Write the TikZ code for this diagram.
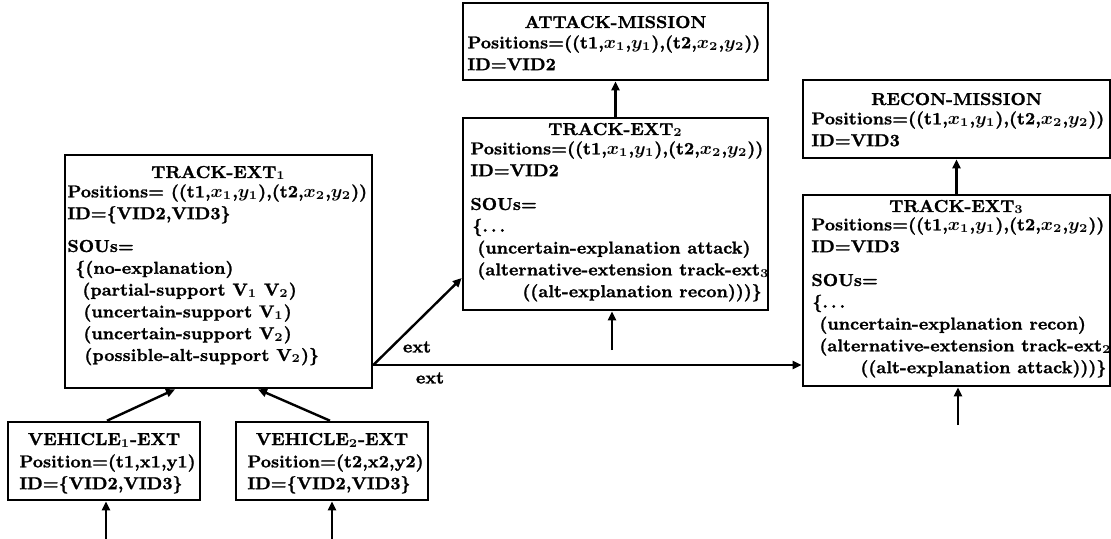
\documentclass[tikz,border=0pt]{standalone}
\usepackage{fontspec}
\setmainfont{Latin Modern Roman}[BoldFeatures={FakeBold=1.2}]
\usetikzlibrary{arrows.meta}
\newcommand{\diafont}{\fontsize{8.65}{10.9}\selectfont\bfseries\boldmath}
\tikzset{
  box/.style={draw, line width=1.3pt, inner sep=0pt},
  title/.style={font=\diafont, anchor=base, inner sep=0pt},
  body/.style={font=\diafont, anchor=north west, align=left, inner sep=0pt},
  lbl/.style={font=\diafont, inner sep=0pt},
  arr/.style={-{Triangle[length=4.5pt,width=4pt]}, line width=1.2pt}
}
\begin{document}
\begin{tikzpicture}[x=0.5pt, y=-0.5pt]
    \useasboundingbox (0,0) rectangle (1111,539);

    % Vehicle extensions
    \node[box, minimum width=96pt, minimum height=39pt] (vehA) at (104,461) {};
    \node[title] (vehAt) at (104,445) {VEHICLE$_1$-EXT};
    \node[body] (vehAb) at (19,454) {Position=(t1,x1,y1)\\ID=\{VID2,VID3\}};
    \node[box, minimum width=96pt, minimum height=39pt] (vehB) at (332,461) {};
    \node[title] (vehBt) at (332,445) {VEHICLE$_2$-EXT};
    \node[body] (vehBb) at (247,454) {Position=(t2,x2,y2)\\ID=\{VID2,VID3\}};

    % Track extension 1
    \node[box, minimum width=153.5pt, minimum height=116.5pt] (trkA) at (218.5,271.5) {};
    \node[title] (trkAt) at (218.5,178) {TRACK-EXT$_1$};
    \node[body] (trkAb) at (67,184) {Positions= ((t1,$x_1$,$y_1$),(t2,$x_2$,$y_2$))\\
        ID=\{VID2,VID3\}\\[5.5pt]
        SOUs=\\
        \hspace*{4pt}\{(no-explanation)\\
        \hspace*{7.5pt}(partial-support V$_1$ V$_2$)\\
        \hspace*{8pt}(uncertain-support V$_1$)\\
        \hspace*{8pt}(uncertain-support V$_2$)\\
        \hspace*{8.5pt}(possible-alt-support V$_2$)\}};

    % Attack mission
    \node[box, minimum width=152.5pt, minimum height=38.5pt] (atk) at (615.5,41.5) {};
    \node[title] (atkt) at (615.5,28) {ATTACK-MISSION};
    \node[body] (atkb) at (467,35) {Positions=((t1,$x_1$,$y_1$),(t2,$x_2$,$y_2$))\\ID=VID2};

    % Track extension 2
    \node[box, minimum width=152.5pt, minimum height=96pt] (trkB) at (615.5,214) {};
    \node[title] (trkBt) at (615.5,135) {TRACK-EXT$_2$};
    \node[body] (trkBb) at (470,141) {Positions=((t1,$x_1$,$y_1$),(t2,$x_2$,$y_2$))\\
        ID=VID2\\[6pt]
        SOUs=\\
        \hspace*{1pt}\{.\,.\,.\\
        \hspace*{3.5pt}(uncertain-explanation attack)\\
        \hspace*{3.5pt}(alternative-extension track-ext$_3$\\
        \hspace*{26pt}((alt-explanation recon)))\}};

    % Recon mission
    \node[box, minimum width=153.5pt, minimum height=39pt] (rcn) at (956.5,119) {};
    \node[title] (rcnt) at (956.5,105) {RECON-MISSION};
    \node[body] (rcnb) at (811,111) {Positions=((t1,$x_1$,$y_1$),(t2,$x_2$,$y_2$))\\ID=VID3};

    % Track extension 3
    \node[box, minimum width=153.5pt, minimum height=95.5pt] (trkC) at (956.5,290.5) {};
    \node[title] (trkCt) at (956.5,212) {TRACK-EXT$_3$};
    \node[body] (trkCb) at (811,217) {Positions=((t1,$x_1$,$y_1$),(t2,$x_2$,$y_2$))\\
        ID=VID3\\[6pt]
        SOUs=\\
        \hspace*{0.5pt}\{.\,.\,.\\
        \hspace*{4pt}(uncertain-explanation recon)\\
        \hspace*{4pt}(alternative-extension track-ext$_2$\\
        \hspace*{24.5pt}((alt-explanation attack)))\}};

    % Incoming arrows
    \coordinate (inA) at (106,539);
    \coordinate (inB) at (332,539);
    \coordinate (inT) at (612,350);
    \coordinate (inC) at (958,425);
    \draw[arr] (inA) -- (inA |- vehA.south);
    \draw[arr] (inB) -- (inB |- vehB.south);
    \draw[arr] (inT) -- (inT |- trkB.south);
    \draw[arr] (inC) -- (inC |- trkC.south);

    % Support arrows
    \draw[arr] ([xshift=1.5pt]vehA.north) -- ([xshift=-21.75pt]trkA.south);
    \draw[arr] ([xshift=-1pt]vehB.north) -- ([xshift=19.75pt]trkA.south);
    \draw[arr] (trkB.north) -- (atk.south);
    \draw[arr] (trkC.north) -- (rcn.south);

    % Extension arrows
    \coordinate (extA) at ([yshift=-46.75pt]trkA.east);
    \draw[arr] (extA) -- ([yshift=-32pt]trkB.west);
    \draw[arr] (extA) -- (extA -| trkC.west);
    \node[lbl] (extup) at (417,347) {ext};
    \node[lbl] (extdn) at (430,378) {ext};
\end{tikzpicture}
\end{document}
